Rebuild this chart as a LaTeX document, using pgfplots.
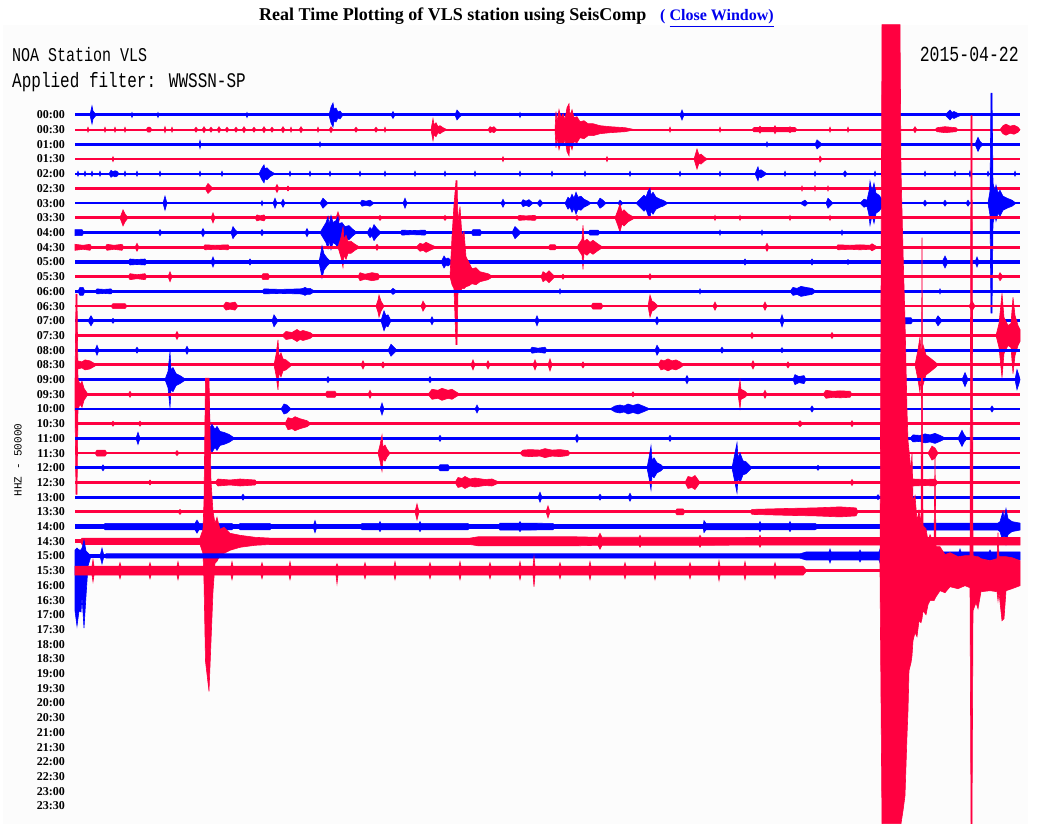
\documentclass[border=0pt]{standalone}
\usepackage{pgfplots}
\pgfplotsset{compat=1.18}
\usepgfplotslibrary{fillbetween}
\usepackage{graphicx}
\usepackage{fontspec}
\setmainfont{Liberation Serif}
\newfontfamily\monof{Liberation Mono}
\definecolor{sred}{RGB}{255,0,64}
\definecolor{sblue}{RGB}{0,0,255}
\definecolor{bgc}{RGB}{252,252,252}
\definecolor{linkc}{RGB}{0,0,238}
\newcommand\lab{\fontsize{12}{12}\selectfont\bfseries}
% symmetric trace: row, colour, baseline width, envelope table (x a)
\newcommand\trS[4]{%
 \addplot[#2, line width=#3] table[row sep=\\, x index=0, y expr={115+14.7*#1}] {x\\ 75\\ 1020\\};
 \addplot[draw=none, name path=U#1] table[row sep=\\, x index=0, y expr={115+14.7*#1-\thisrowno{1}}] {#4};
 \addplot[draw=none, name path=L#1] table[row sep=\\, x index=0, y expr={115+14.7*#1+\thisrowno{1}}] {#4};
 \addplot[fill=#2, draw=#2, line width=0.6pt] fill between[of=U#1 and L#1];
}
% asymmetric trace: row, colour, baseline width, envelope table (x up down)
\newcommand\trA[4]{%
 \addplot[#2, line width=#3] table[row sep=\\, x index=0, y expr={115+14.7*#1}] {x\\ 75\\ 1020\\};
 \addplot[draw=none, name path=U#1] table[row sep=\\, x index=0, y expr={115+14.7*#1-\thisrowno{1}}] {#4};
 \addplot[draw=none, name path=L#1] table[row sep=\\, x index=0, y expr={115+14.7*#1+\thisrowno{2}}] {#4};
 \addplot[fill=#2, draw=#2, line width=0.6pt] fill between[of=U#1 and L#1];
}
\begin{document}
\begin{tikzpicture}
\begin{axis}[
 scale only axis, width=1037pt, height=836pt,
 xmin=0, xmax=1037, ymin=0, ymax=836, y dir=reverse,
 axis on top,
 axis line style={draw=none}, tick style={draw=none}, major tick length=0pt,
 xtick=\empty,
 ytick={115,129.7,...,806},
 yticklabels={00:00,00:30,01:00,01:30,02:00,02:30,03:00,03:30,04:00,04:30,05:00,05:30,06:00,06:30,07:00,07:30,08:00,08:30,09:00,09:30,10:00,10:30,11:00,11:30,12:00,12:30,13:00,13:30,14:00,14:30,15:00,15:30,16:00,16:30,17:00,17:30,18:00,18:30,19:00,19:30,20:00,20:30,21:00,21:30,22:00,22:30,23:00,23:30},
 yticklabel style={anchor=east, xshift=65pt, inner sep=0pt, font=\lab},
 fill between/on layer=main,
]
\fill[white] (axis cs:0,0) rectangle (axis cs:1037,836);
\fill[bgc] (axis cs:3,25) rectangle (axis cs:1028,824);
\node[anchor=base west, inner sep=0pt, font=\bfseries\fontsize{18}{18}\selectfont] at (axis cs:259,21) {Real Time Plotting of VLS station using SeisComp};
\node[anchor=base west, inner sep=0pt, font=\bfseries\fontsize{16}{16}\selectfont, text=linkc] at (axis cs:660,21) {( \underline{Close Window)}};
\node[anchor=base west, inner sep=0pt] at (axis cs:12,62) {\scalebox{1}[1.3]{\monof\fontsize{15}{15}\selectfont NOA Station VLS}};
\node[anchor=base west, inner sep=0pt] at (axis cs:12,88) {\scalebox{1}[1.3]{\monof\fontsize{16}{16}\selectfont Applied filter: WWSSN-SP}};
\node[anchor=base east, inner sep=0pt] at (axis cs:1019,62) {\scalebox{1}[1.3]{\monof\fontsize{16.5}{16.5}\selectfont 2015-04-22}};
\node[rotate=90, inner sep=0pt, font=\monof\fontsize{11}{11}\selectfont] at (axis cs:18,460) {HHZ - 50000};

\trS{0}{sblue}{3pt}{x a\\ 90 0\\ 92 9\\ 93 4\\ 95 1.5\\ 97 0\\ 131 0\\ 132 2.5\\ 133 0\\ 157 0\\ 158 2.5\\ 159 0\\ 246 0\\ 247 2.5\\ 248 0\\ 329 0\\ 331 8\\ 333 12\\ 334 6\\ 336 7\\ 338 3\\ 340 4\\ 343 0\\ 391 0\\ 393 3.5\\ 395 0\\ 455 0\\ 457 5\\ 459 2.5\\ 462 0\\ 519 0\\ 520 2.5\\ 521 0\\ 680 0\\ 682 5\\ 684 0\\ 945 0\\ 948 3\\ 950 5\\ 952 2.5\\ 954 3.5\\ 958 1.5\\ 962 0\\}
\trS{1}{sred}{1.8pt}{x a\\ 87 0\\ 88 2.5\\ 89 0\\ 104 0\\ 105 2.5\\ 106 0\\ 114 0\\ 115 2.5\\ 116 0\\ 124 0\\ 125 2.5\\ 126 0\\ 146 0\\ 148 2.5\\ 150 2.5\\ 152 0\\ 164 0\\ 165 3\\ 166 0\\ 171 0\\ 172 2.5\\ 173 0\\ 194 0\\ 196 2.5\\ 198 0\\ 202 0\\ 204 3\\ 206 0\\ 209 0\\ 211 2.5\\ 213 0\\ 217 0\\ 219 3\\ 221 0\\ 225 0\\ 227 2.5\\ 229 0\\ 234 0\\ 236 2.5\\ 238 0\\ 242 0\\ 244 3\\ 246 0\\ 252 0\\ 254 2.5\\ 256 0\\ 262 0\\ 264 3\\ 266 0\\ 270 0\\ 272 2.5\\ 274 0\\ 281 0\\ 283 3\\ 285 0\\ 290 0\\ 291 2.5\\ 292 0\\ 299 0\\ 301 3\\ 303 0\\ 317 0\\ 318 2.5\\ 319 0\\ 329 0\\ 331 3\\ 333 0\\ 354 0\\ 356 2.5\\ 358 0\\ 374 0\\ 376 2.5\\ 378 0\\ 384 0\\ 385 2.5\\ 386 0\\ 431 0\\ 433 11\\ 434 5\\ 436 7\\ 438 3\\ 440 4\\ 443 2\\ 447 0\\ 488 0\\ 490 3\\ 492 2\\ 494 3\\ 497 0\\ 555 0\\ 556 18\\ 557 8\\ 559 20\\ 561 12\\ 563 16\\ 565 10\\ 567 22\\ 569 26\\ 570 14\\ 572 20\\ 574 12\\ 577 13\\ 580 8\\ 584 9\\ 588 6\\ 593 6\\ 600 4\\ 610 3\\ 625 2\\ 635 0\\ 669 0\\ 670 2.5\\ 671 0\\ 719 0\\ 720 2.5\\ 721 0\\ 752 0\\ 754 2.2\\ 759 2.2\\ 760 3.5\\ 761 2.2\\ 774 2.2\\ 775 4\\ 776 2.2\\ 789 2.2\\ 790 3\\ 791 2.2\\ 795 2.2\\ 797 0\\ 829 0\\ 830 2.5\\ 831 0\\ 847 0\\ 848 2.5\\ 849 0\\ 913 0\\ 915 3\\ 917 0\\ 935 0\\ 937 2\\ 945 3\\ 956 2\\ 958 0\\ 1000 0\\ 1003 4\\ 1006 5.5\\ 1010 3.5\\ 1014 4.5\\ 1018 2.5\\ 1020 0\\}
\trS{2}{sblue}{3.2pt}{x a\\ 199 0\\ 200 4\\ 201 0\\ 319 0\\ 320 2.5\\ 321 0\\ 766 0\\ 767 2.5\\ 768 0\\ 815 0\\ 817 4.5\\ 820 2\\ 822 0\\ 975 0\\ 978 7\\ 980 3\\ 983 0\\}
\trS{3}{sred}{2.6pt}{x a\\ 112 0\\ 113 2.5\\ 114 0\\ 502 0\\ 503 2.5\\ 504 0\\ 606 0\\ 607 2.5\\ 608 0\\ 694 0\\ 697 10\\ 699 4\\ 701 5\\ 705 1.5\\ 708 0\\ 819 0\\ 820 3\\ 822 0\\}
\trS{4}{sblue}{1.8pt}{x a\\ 77 0\\ 78 2.5\\ 79 0\\ 84 0\\ 85 2.5\\ 86 0\\ 91 0\\ 92 2.5\\ 93 0\\ 99 0\\ 100 2.5\\ 101 0\\ 109 0\\ 111 3.5\\ 113 2\\ 115 3\\ 117 2.5\\ 119 0\\ 124 0\\ 125 2.5\\ 126 0\\ 136 0\\ 137 2.5\\ 138 0\\ 159 0\\ 160 2.5\\ 161 0\\ 199 0\\ 200 2.5\\ 201 0\\ 221 0\\ 222 2.5\\ 223 0\\ 259 0\\ 262 6\\ 264 9\\ 265 5\\ 267 6\\ 270 3\\ 275 0\\ 289 0\\ 290 2.5\\ 291 0\\ 309 0\\ 310 2.5\\ 311 0\\ 329 0\\ 330 2.5\\ 331 0\\ 359 0\\ 360 2.5\\ 361 0\\ 384 0\\ 385 2.5\\ 386 0\\ 414 0\\ 415 2.5\\ 416 0\\ 444 0\\ 445 2.5\\ 446 0\\ 474 0\\ 475 2.5\\ 476 0\\ 519 0\\ 520 2.5\\ 521 0\\ 551 0\\ 552 2.5\\ 553 0\\ 584 0\\ 585 2.5\\ 586 0\\ 629 0\\ 630 2.5\\ 631 0\\ 679 0\\ 680 2.5\\ 681 0\\ 719 0\\ 720 2.5\\ 721 0\\ 755 0\\ 758 7\\ 759 3\\ 761 4\\ 764 2\\ 767 0\\ 784 0\\ 785 2.5\\ 786 0\\ 814 0\\ 815 2.5\\ 816 0\\ 843 0\\ 845 3\\ 847 0\\ 874 0\\ 875 2.5\\ 876 0\\ 924 0\\ 925 2.5\\ 926 0\\ 954 0\\ 955 2.5\\ 956 0\\ 969 0\\ 970 3\\ 971 0\\ 987 0\\ 988 2.5\\ 989 0\\ 1014 0\\ 1015 2.5\\ 1016 0\\}
\trS{5}{sred}{2.6pt}{x a\\ 205 0\\ 208 5\\ 210 3\\ 213 0\\ 275 0\\ 277 4\\ 279 0\\ 286 0\\ 288 2.5\\ 290 0\\ 801 0\\ 802 2.5\\ 803 0\\ 814 0\\ 815 2.5\\ 816 0\\ 827 0\\ 828 2.5\\ 829 0\\}
\trS{6}{sblue}{2.6pt}{x a\\ 163 0\\ 165 7\\ 167 0\\ 261 0\\ 262 2.5\\ 263 0\\ 273 0\\ 275 5\\ 277 0\\ 281 0\\ 283 4\\ 285 0\\ 320 0\\ 323 5\\ 326 2\\ 328 0\\ 360 0\\ 362 3\\ 366 2\\ 370 3\\ 374 0\\ 403 0\\ 405 5\\ 407 0\\ 501 0\\ 503 4\\ 505 0\\ 521 0\\ 523 3.5\\ 526 2\\ 529 3.5\\ 533 0\\ 537 0\\ 540 3.5\\ 543 0\\ 565 0\\ 568 6\\ 570 4\\ 572 9\\ 574 5\\ 576 11\\ 578 6\\ 581 7\\ 584 4\\ 588 2\\ 591 0\\ 597 0\\ 600 5\\ 603 3\\ 606 0\\ 618 0\\ 620 3\\ 623 0\\ 636 0\\ 640 4\\ 644 8\\ 646 6\\ 648 12\\ 650 15\\ 651 8\\ 653 11\\ 656 6\\ 660 4\\ 663 3\\ 668 0\\ 800 0\\ 805 3\\ 808 0\\ 826 0\\ 828 5\\ 831 2\\ 833 0\\ 860 0\\ 864 4\\ 867 3\\ 869 12\\ 870 22\\ 872 12\\ 874 20\\ 876 10\\ 879 8\\ 882 4\\ 885 0\\ 923 0\\ 925 3\\ 927 0\\ 943 0\\ 945 3\\ 947 0\\ 966 0\\ 968 3\\ 970 0\\ 988 0\\ 990 12\\ 991 110\\ 992 110\\ 993 20\\ 995 12\\ 996 18\\ 998 10\\ 1000 13\\ 1003 7\\ 1007 5\\ 1012 3\\ 1016 0\\}
\trS{7}{sred}{3pt}{x a\\ 120 0\\ 123 8\\ 125 4\\ 128 0\\ 211 0\\ 213 5\\ 215 0\\ 255 0\\ 257 3\\ 260 2\\ 264 3\\ 266 0\\ 336 0\\ 338 6\\ 340 0\\ 378 0\\ 380 2.5\\ 382 0\\ 443 0\\ 445 2.5\\ 447 0\\ 517 0\\ 519 2.5\\ 526 2\\ 535 2.5\\ 537 0\\ 575 0\\ 577 2.5\\ 579 0\\ 615 0\\ 618 8\\ 620 14\\ 622 6\\ 624 8\\ 628 4\\ 635 0\\ 714 0\\ 715 2.5\\ 716 0\\ 739 0\\ 740 2.5\\ 741 0\\ 789 0\\ 790 2.5\\ 791 0\\ 829 0\\ 830 2.5\\ 831 0\\}
\trS{8}{sblue}{3.2pt}{x a\\ 75 3\\ 82 3\\ 84 0\\ 158 0\\ 160 3\\ 162 0\\ 201 0\\ 203 4\\ 205 0\\ 231 0\\ 233 6\\ 235 3\\ 238 0\\ 260 0\\ 262 3\\ 264 0\\ 305 0\\ 307 4\\ 309 0\\ 320 0\\ 323 5\\ 326 10\\ 328 16\\ 329 8\\ 331 17\\ 333 10\\ 336 12\\ 338 16\\ 339 9\\ 342 10\\ 345 6\\ 349 7\\ 352 4\\ 357 0\\ 367 0\\ 370 5\\ 372 3\\ 374 8\\ 377 4\\ 381 0\\ 400 0\\ 402 2.5\\ 412 2\\ 425 2.5\\ 427 0\\ 471 0\\ 473 3\\ 480 3\\ 482 0\\ 512 0\\ 515 6\\ 518 3\\ 521 0\\ 588 0\\ 590 2.5\\ 598 2.5\\ 600 0\\ 719 0\\ 720 2.5\\ 721 0\\ 761 0\\ 762 2.5\\ 763 0\\ 841 0\\ 842 2.5\\ 843 0\\}
\trS{9}{sred}{2.6pt}{x a\\ 75 3\\ 83 2\\ 90 3\\ 92 0\\ 105 0\\ 107 3\\ 114 2\\ 122 3\\ 124 0\\ 135 0\\ 137 4\\ 139 0\\ 203 0\\ 205 2.5\\ 215 2\\ 228 2.5\\ 230 0\\ 338 0\\ 341 10\\ 343 20\\ 344 8\\ 346 12\\ 348 6\\ 351 6\\ 355 3\\ 360 0\\ 375 0\\ 377 3\\ 379 0\\ 416 0\\ 420 4\\ 423 3\\ 426 5\\ 430 3\\ 437 0\\ 548 0\\ 550 2.5\\ 555 2.5\\ 557 0\\ 577 0\\ 580 5\\ 582 8\\ 583 22\\ 584 6\\ 587 8\\ 590 5\\ 593 7\\ 597 4\\ 603 0\\ 765 0\\ 767 4\\ 769 0\\ 836 0\\ 838 2.5\\ 850 2\\ 860 2.5\\ 870 2\\ 872 3.5\\ 878 0\\}
\trS{10}{sblue}{3.8pt}{x a\\ 128 0\\ 130 3\\ 137 2.5\\ 145 3\\ 147 0\\ 211 0\\ 213 5\\ 215 0\\ 248 0\\ 250 3\\ 252 0\\ 319 0\\ 321 10\\ 322 16\\ 324 8\\ 327 4\\ 331 0\\ 441 0\\ 444 6\\ 446 3\\ 448 4\\ 450 2.5\\ 452 0\\ 743 0\\ 745 3\\ 747 0\\ 810 0\\ 812 3\\ 814 0\\ 846 0\\ 848 2.5\\ 850 0\\ 942 0\\ 945 6\\ 948 0\\ 975 0\\ 977 5\\ 979 0\\}
\trA{11}{sred}{2.8pt}{x u d\\ 128 0 0\\ 130 3 3\\ 137 2 2\\ 145 3 3\\ 147 0 0\\ 168 0 0\\ 170 5 5\\ 172 0 0\\ 261 0 0\\ 263 3 3\\ 268 3 3\\ 270 0 0\\ 358 0 0\\ 360 4 4\\ 365 2.5 2.5\\ 372 4 4\\ 378 3 3\\ 380 0 0\\ 450 0 0\\ 452 40 8\\ 454 72 12\\ 456 96 68\\ 457 96 68\\ 458 55 15\\ 460 70 15\\ 462 40 12\\ 464 45 12\\ 466 20 10\\ 469 14 9\\ 472 8 7\\ 476 9 8\\ 480 5 5\\ 488 3 3\\ 493 0 0\\ 541 0 0\\ 543 5 5\\ 546 3 3\\ 549 6 6\\ 552 3 3\\ 555 0 0\\ 561 0 0\\ 563 2.5 2.5\\ 565 0 0\\ 648 0 0\\ 650 3 3\\ 652 0 0\\ 998 0 0\\ 1000 4 4\\ 1003 0 0\\}
\trS{12}{sblue}{2.6pt}{x a\\ 78 0\\ 80 4\\ 83 4\\ 85 0\\ 95 0\\ 97 2.5\\ 104 2\\ 111 2.5\\ 113 0\\ 262 0\\ 264 2.5\\ 280 2\\ 300 2.5\\ 303 3\\ 305 4\\ 307 3\\ 310 3\\ 315 0\\ 390 0\\ 393 3\\ 397 0\\ 559 0\\ 560 2.5\\ 561 0\\ 699 0\\ 700 2.5\\ 701 0\\ 790 0\\ 793 4\\ 797 3\\ 801 5\\ 806 4\\ 812 3\\ 816 0\\ 939 0\\ 940 2.5\\ 941 0\\}
\trS{13}{sred}{2.6pt}{x a\\ 111 0\\ 113 2.5\\ 125 2.5\\ 127 0\\ 223 0\\ 226 4\\ 230 3\\ 235 4\\ 238 0\\ 376 0\\ 378 6\\ 379 11\\ 381 5\\ 384 0\\ 421 0\\ 423 5\\ 426 0\\ 591 0\\ 593 3\\ 601 3\\ 603 0\\ 648 0\\ 650 11\\ 652 5\\ 654 4\\ 658 0\\ 713 0\\ 715 4\\ 717 0\\ 763 0\\ 765 4\\ 767 0\\ 969 0\\ 972 5\\ 975 0\\}
\trS{14}{sblue}{2.8pt}{x a\\ 88 0\\ 91 5\\ 94 0\\ 111 0\\ 113 2.5\\ 115 0\\ 272 0\\ 274 6\\ 276 3\\ 278 0\\ 381 0\\ 384 10\\ 386 5\\ 388 6\\ 391 0\\ 430 0\\ 432 4\\ 434 0\\ 535 0\\ 537 5\\ 539 0\\ 655 0\\ 657 4\\ 659 0\\ 780 0\\ 782 6\\ 784 0\\ 903 0\\ 905 3\\ 911 3\\ 913 0\\ 935 0\\ 938 5\\ 942 0\\}
\trS{15}{sred}{2.8pt}{x a\\ 175 0\\ 177 4\\ 179 0\\ 282 0\\ 286 4\\ 292 3\\ 297 6\\ 300 4\\ 303 5\\ 310 3\\ 314 0\\ 750 0\\ 752 3\\ 754 0\\ 830 0\\ 832 3\\ 834 0\\ 996 0\\ 999 12\\ 1002 42\\ 1004 18\\ 1008 10\\ 1011 12\\ 1013 38\\ 1015 20\\ 1018 10\\ 1020 6\\}
\trS{16}{sblue}{3.2pt}{x a\\ 95 0\\ 97 5\\ 99 0\\ 135 0\\ 137 3\\ 139 0\\ 185 0\\ 187 4\\ 189 0\\ 388 0\\ 391 6\\ 394 3\\ 397 0\\ 530 0\\ 532 3\\ 538 2\\ 545 3\\ 547 0\\ 655 0\\ 657 5\\ 660 0\\ 720 0\\ 722 3\\ 724 0\\ 780 0\\ 782 2.5\\ 784 0\\}
\trS{17}{sred}{3.2pt}{x a\\ 76 0\\ 78 4\\ 82 3\\ 85 5\\ 90 4\\ 97 0\\ 274 0\\ 276 10\\ 278 25\\ 279 8\\ 281 12\\ 283 6\\ 286 5\\ 292 0\\ 361 0\\ 363 4\\ 365 0\\ 381 0\\ 383 3\\ 385 0\\ 471 0\\ 473 5\\ 475 0\\ 486 0\\ 488 4\\ 490 0\\ 533 0\\ 535 5\\ 537 0\\ 548 0\\ 550 6\\ 552 0\\ 581 0\\ 583 3\\ 585 0\\ 658 0\\ 661 5\\ 664 4\\ 668 6\\ 672 4\\ 676 5\\ 680 3\\ 684 0\\ 751 0\\ 753 4\\ 755 0\\ 786 0\\ 788 3\\ 790 0\\ 915 0\\ 918 15\\ 920 28\\ 921 12\\ 923 20\\ 926 10\\ 930 7\\ 935 3\\ 938 0\\}
\trS{18}{sblue}{2.8pt}{x a\\ 165 0\\ 168 8\\ 170 28\\ 171 10\\ 173 12\\ 176 6\\ 180 4\\ 186 0\\ 326 0\\ 328 3\\ 330 0\\ 428 0\\ 430 3\\ 432 0\\ 685 0\\ 687 4\\ 689 0\\ 793 0\\ 795 5\\ 799 3\\ 804 4\\ 806 0\\ 962 0\\ 965 7\\ 968 0\\ 1015 0\\ 1017 10\\ 1019 4\\ 1020 0\\}
\trS{19}{sred}{2.6pt}{x a\\ 75 12\\ 76 100\\ 77 100\\ 78 15\\ 80 10\\ 82 13\\ 84 6\\ 86 3\\ 88 0\\ 128 0\\ 130 3\\ 132 0\\ 325 0\\ 327 3\\ 335 3\\ 337 0\\ 368 0\\ 370 4\\ 372 0\\ 428 0\\ 432 5\\ 438 4\\ 442 6\\ 448 4\\ 452 5\\ 460 0\\ 631 0\\ 633 2.5\\ 635 0\\ 738 0\\ 740 14\\ 741 5\\ 743 4\\ 745 3\\ 748 0\\ 763 0\\ 765 4\\ 767 0\\ 823 0\\ 826 4\\ 833 3\\ 840 3.5\\ 850 3\\ 852 0\\}
\trS{20}{sblue}{2.8pt}{x a\\ 281 0\\ 284 5\\ 287 4\\ 291 0\\ 380 0\\ 382 6\\ 384 0\\ 475 0\\ 477 4\\ 479 0\\ 610 0\\ 615 3\\ 620 4\\ 624 3\\ 628 5\\ 633 3.5\\ 638 5\\ 643 3\\ 650 0\\ 810 0\\ 812 3\\ 814 0\\ 990 0\\ 992 3\\ 994 0\\}
\trS{21}{sred}{2.8pt}{x a\\ 111 0\\ 113 2.5\\ 115 0\\ 138 0\\ 140 2.5\\ 142 0\\ 285 0\\ 288 6\\ 292 5\\ 295 7\\ 300 5\\ 307 3\\ 311 0\\ 797 0\\ 800 3\\ 803 0\\ 850 0\\ 852 3\\ 854 0\\}
\trS{22}{sblue}{3pt}{x a\\ 136 0\\ 138 6\\ 140 0\\ 206 0\\ 208 12\\ 209 40\\ 210 10\\ 212 14\\ 215 9\\ 217 12\\ 220 7\\ 224 6\\ 229 4\\ 235 0\\ 438 0\\ 440 3\\ 442 0\\ 575 0\\ 577 4\\ 579 0\\ 668 0\\ 670 3\\ 672 0\\ 910 0\\ 913 3.5\\ 920 3\\ 925 4.5\\ 930 3.5\\ 935 5\\ 940 3\\ 946 0\\ 958 0\\ 961 6\\ 962 8\\ 964 4\\ 967 0\\}
\trS{23}{sred}{2.8pt}{x a\\ 95 0\\ 97 3\\ 105 3\\ 107 0\\ 175 0\\ 177 2.5\\ 179 0\\ 378 0\\ 380 8\\ 382 18\\ 383 6\\ 385 8\\ 387 4\\ 390 0\\ 520 0\\ 523 3\\ 530 3.5\\ 540 3\\ 545 4.5\\ 552 3\\ 560 3.5\\ 568 2.5\\ 570 0\\ 928 0\\ 932 7\\ 935 5\\ 938 0\\}
\trS{24}{sblue}{2.8pt}{x a\\ 101 0\\ 103 3\\ 105 0\\ 438 0\\ 440 3\\ 448 3\\ 450 0\\ 647 0\\ 649 10\\ 651 22\\ 652 8\\ 654 10\\ 657 5\\ 661 3\\ 664 0\\ 732 0\\ 735 15\\ 737 25\\ 738 10\\ 740 15\\ 743 7\\ 746 6\\ 752 0\\ 816 0\\ 818 2.5\\ 820 0\\}
\trS{25}{sred}{2.8pt}{x a\\ 148 0\\ 150 2.5\\ 152 0\\ 215 0\\ 218 3.5\\ 230 2.5\\ 240 3.5\\ 255 2.5\\ 257 0\\ 455 0\\ 458 5\\ 462 4\\ 465 6\\ 470 3.5\\ 475 4.5\\ 485 3\\ 492 3.5\\ 500 0\\ 685 0\\ 688 6\\ 692 5\\ 695 7\\ 700 0\\ 850 0\\ 852 3\\ 854 0\\ 910 0\\ 913 3.5\\ 925 3\\ 935 3.5\\ 938 0\\}
\trS{26}{sblue}{2.8pt}{x a\\ 241 0\\ 243 3\\ 245 0\\ 538 0\\ 540 5\\ 542 0\\ 598 0\\ 600 3\\ 602 0\\ 628 0\\ 630 4\\ 632 0\\ 876 0\\ 878 2.5\\ 880 0\\}
\trS{27}{sred}{3.2pt}{x a\\ 178 0\\ 180 2.5\\ 182 0\\ 415 0\\ 417 8\\ 419 0\\ 546 0\\ 548 6\\ 550 0\\ 675 0\\ 677 3\\ 683 3\\ 685 0\\ 750 0\\ 752 2.5\\ 790 3.5\\ 815 4\\ 840 5\\ 856 4\\ 858 0\\}
\trS{28}{sblue}{4.4pt}{x a\\ 103 0\\ 105 3.2\\ 195 3.2\\ 197 6.5\\ 199 3.2\\ 232 3.2\\ 234 0\\ 238 0\\ 240 3.2\\ 270 3.2\\ 272 0\\ 313 0\\ 315 6\\ 317 0\\ 360 0\\ 362 3.2\\ 379 3.2\\ 380 5\\ 381 3.2\\ 419 3.2\\ 420 5\\ 421 3.2\\ 468 3.2\\ 470 0\\ 498 0\\ 500 3.5\\ 519 3.5\\ 520 5\\ 521 3.5\\ 553 3.2\\ 555 0\\ 703 0\\ 704 6\\ 706 3.2\\ 759 3.2\\ 760 5\\ 761 3.2\\ 789 3.2\\ 790 5\\ 791 3.2\\ 815 3.2\\ 820 0\\ 910 0\\ 912 3.5\\ 998 3.5\\ 1000 5\\ 1003 15\\ 1004 8\\ 1006 18\\ 1008 8\\ 1012 5\\ 1020 3.5\\}
\trA{29}{sred}{4.4pt}{x u d\\ 80 0 0\\ 82 3.2 3.2\\ 200 3.2 3.2\\ 203 12 12\\ 204 40 40\\ 205.5 163 120\\ 209 163 150\\ 211 60 100\\ 213 30 50\\ 215 18 22\\ 217 24 20\\ 220 12 14\\ 224 14 12\\ 230 8 9\\ 240 6 6\\ 255 4 4\\ 270 3.2 3.2\\ 470 3.2 3.2\\ 478 4.5 4.5\\ 577 4.5 4.5\\ 598 4 4\\ 600 8 8\\ 602 4 4\\ 639 4 4\\ 640 6 6\\ 641 4 4\\ 699 4 4\\ 700 6 6\\ 701 4 4\\ 759 3.8 3.8\\ 760 6 6\\ 761 3.8 3.8\\ 1020 3.8 3.8\\}
\trA{30}{sblue}{3.4pt}{x u d\\ 75 6 55\\ 77 8 70\\ 79 6 55\\ 81 6 56\\ 82 8 40\\ 84 16 72\\ 86 5 40\\ 88 3 10\\ 91 0 0\\ 100 0 0\\ 102 8 8\\ 104 0 0\\ 106 2.2 2.2\\ 800 2.2 2.2\\ 806 4 4\\ 829 4 4\\ 830 7 7\\ 831 4 4\\ 859 4 4\\ 860 6 6\\ 861 4 4\\ 879 4 4\\ 880 7 7\\ 881 4 4\\ 919 4 4\\ 920 6 6\\ 921 4 4\\ 959 4 4\\ 960 7 7\\ 961 4 4\\ 989 4 4\\ 990 6 6\\ 991 4 4\\ 1020 4 4\\}
\trA{31}{sred}{2.4pt}{x u d\\ 75 4.5 4.5\\ 92 4.5 4.5\\ 93 11 11\\ 94 4.5 4.5\\ 119 4.5 4.5\\ 120 8 8\\ 121 4.5 4.5\\ 149 4.5 4.5\\ 150 8 8\\ 151 4.5 4.5\\ 177 4.5 4.5\\ 178 9 9\\ 179 4.5 4.5\\ 204 4.5 4.5\\ 205 8 8\\ 206 4.5 4.5\\ 231 4.5 4.5\\ 232 9 9\\ 233 4.5 4.5\\ 261 4.5 4.5\\ 262 8 8\\ 263 4.5 4.5\\ 289 4.5 4.5\\ 290 9 9\\ 291 4.5 4.5\\ 336 4.5 4.5\\ 337 7 13\\ 338 4.5 4.5\\ 364 4.5 4.5\\ 365 8 8\\ 366 4.5 4.5\\ 394 4.5 4.5\\ 395 9 9\\ 396 4.5 4.5\\ 429 4.5 4.5\\ 430 8 8\\ 431 4.5 4.5\\ 459 4.5 4.5\\ 460 9 9\\ 461 4.5 4.5\\ 489 4.5 4.5\\ 490 8 8\\ 491 4.5 4.5\\ 519 4.5 4.5\\ 520 9 9\\ 521 4.5 4.5\\ 533 4.5 4.5\\ 534 14 16\\ 535 4.5 4.5\\ 559 4.5 4.5\\ 560 8 8\\ 561 4.5 4.5\\ 589 4.5 4.5\\ 590 9 9\\ 591 4.5 4.5\\ 624 4.5 4.5\\ 625 8 8\\ 626 4.5 4.5\\ 654 4.5 4.5\\ 655 9 9\\ 656 4.5 4.5\\ 689 4.5 4.5\\ 690 8 8\\ 691 4.5 4.5\\ 718 4.5 4.5\\ 719 10 10\\ 720 4.5 4.5\\ 744 4.5 4.5\\ 745 9 9\\ 746 4.5 4.5\\ 774 4.5 4.5\\ 775 8 8\\ 776 4.5 4.5\\ 803 4.5 4.5\\ 806 1 1\\ 880 1 1\\ 882 546 253\\ 900 546 253\\ 901 400 253\\ 903 320 240\\ 905 250 225\\ 907 160 165\\ 908 130 140\\ 909 120 100\\ 911 100 92\\ 912 118 85\\ 913 70 70\\ 915 75 62\\ 917 50 66\\ 919 60 50\\ 921 45 52\\ 922 333 48\\ 923 45 40\\ 926 42 44\\ 928 30 34\\ 930 36 30\\ 934 26 30\\ 935 113 28\\ 936 24 26\\ 940 24 20\\ 945 16 22\\ 950 18 16\\ 958 14 18\\ 965 15 15\\ 970 15 17\\ 971 455 253\\ 972 455 253\\ 973 15 40\\ 976 14 32\\ 978 14 38\\ 981 12 21\\ 990 10 20\\ 997 12 21\\ 998 38 30\\ 999 14 22\\ 1002 14 50\\ 1004 14 48\\ 1006 14 20\\ 1012 13 18\\ 1020 10 15\\}
\end{axis}
\end{tikzpicture}
\end{document}
